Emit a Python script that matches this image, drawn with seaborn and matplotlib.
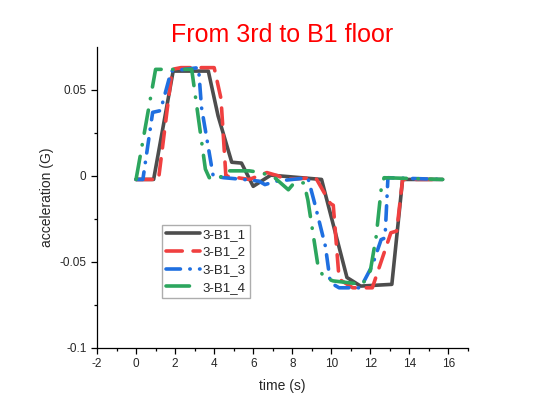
import matplotlib
matplotlib.use("Agg")
import matplotlib.pyplot as plt
import matplotlib.ticker as mticker
import pandas as pd
import seaborn as sns

# values
t_1 = [0, 0.9, 1.9, 3.7, 4.2, 4.9, 5.4, 6.0, 6.9, 9.5, 10.8, 11.5, 13.1, 13.65, 15.7]
a_1 = [-0.002, -0.002, 0.061, 0.061, 0.035, 0.008, 0.0075, -0.006, 0.0005, -0.002,
       -0.059, -0.064, -0.063, -0.002, -0.002]

t_2 = [0, 1.15, 1.85, 2.3, 4.0, 4.35, 4.6, 5.8, 6.7, 7.3, 7.6, 9.2, 9.95, 10.1, 10.4,
       11.1, 12.1, 13.05, 13.35, 13.65, 15.7]
a_2 = [-0.002, -0.002, 0.062, 0.063, 0.063, 0.045, 0.0, -0.002, 0.002, 0.0, -0.002,
       -0.001, -0.016, -0.017, -0.06, -0.065, -0.065, -0.033, -0.032, -0.002, -0.002]

t_3 = [0, 0.35, 0.85, 1.25, 1.8, 3.2, 3.35, 3.95, 4.5, 5.5, 6.3, 6.6, 7.2, 8.8, 9.15,
       9.7, 9.95, 10.4, 11.5, 12.1, 12.55, 12.75, 12.9, 15.7]
a_3 = [-0.002, -0.002, 0.037, 0.038, 0.061, 0.063, 0.04, 0.0, -0.001, -0.002, -0.003,
       -0.005, -0.003, -0.001, -0.016, -0.041, -0.062, -0.065, -0.065, -0.052, -0.037,
       -0.036, -0.001, -0.002]

t_4 = [0, 1.0, 1.3, 2.85, 3.55, 3.75, 4.3, 4.6, 5.8, 6.4, 7.1, 7.8, 8.1, 8.6, 8.8, 9.3,
       9.6, 10.1, 11.6, 12.0, 12.3, 12.55, 12.7, 15.7]
a_4 = [-0.002, 0.062, 0.062, 0.062, 0.004, -0.001, -0.001, 0.003, 0.003, 0.002, -0.001,
       -0.008, -0.004, -0.004, -0.014, -0.051, -0.059, -0.061, -0.063, -0.055, -0.035,
       -0.008, -0.001, -0.002]

labels = ["3-B1_1", "3-B1_2", "3-B1_3", "3-B1_4"]
colors = ["#4d4d4d", "#f04040", "#1f6fe0", "#2ca65e"]
dashes = ["", (4.5, 3.0), (4.0, 2.6, 0.1, 2.6), (6.5, 3.2, 0.1, 3.2)]

frames = []
for lab, t, a in zip(labels, [t_1, t_2, t_3, t_4], [a_1, a_2, a_3, a_4]):
    frames.append(pd.DataFrame({"run": lab, "time": t, "acc": a}))
df = pd.concat(frames).reset_index(drop=True)

sns.set_style("white")
plt.rcParams["font.family"] = ["Liberation Sans", "DejaVu Sans"]
plt.rcParams["axes.unicode_minus"] = False

fig = plt.figure(figsize=(5.45, 4.17), dpi=100)
ax = fig.add_axes([97 / 545, 69 / 417, 371 / 545, 301 / 417])

sns.lineplot(data=df, x="time", y="acc", hue="run", style="run",
             palette=colors, dashes=dashes, estimator=None, sort=False,
             linewidth=2.6, ax=ax, legend=False)
for ln in ax.lines:
    ln.set_dash_capstyle("round")
    ln.set_solid_capstyle("round")

ax.set_xlim(-2, 17)
ax.set_ylim(-0.1, 0.075)
ax.xaxis.set_major_locator(mticker.MultipleLocator(2))
ax.xaxis.set_minor_locator(mticker.MultipleLocator(1))
ax.yaxis.set_major_locator(mticker.FixedLocator([-0.1, -0.05, 0, 0.05]))
ax.yaxis.set_minor_locator(mticker.FixedLocator([-0.075, -0.025, 0.025]))
ax.xaxis.set_major_formatter(mticker.FuncFormatter(lambda v, p: "%g" % round(v, 3)))
ax.yaxis.set_major_formatter(mticker.FuncFormatter(lambda v, p: "%g" % round(v, 3)))
ax.tick_params(which="major", direction="out", length=4, width=0.9, labelsize=8.5,
               left=True, bottom=True, color="black")
ax.tick_params(which="minor", direction="out", length=2.5, width=0.9,
               left=True, bottom=True, color="black")
for side in ["top", "right"]:
    ax.spines[side].set_visible(False)
for side in ["left", "bottom"]:
    ax.spines[side].set_color("black")
    ax.spines[side].set_linewidth(0.9)

ax.set_xlabel("time (s)", fontsize=10, labelpad=6)
ax.set_ylabel("acceleration (G)", fontsize=10)
ax.set_title("From 3rd to B1 floor", color="red", fontsize=18, pad=3)

ax.legend(ax.lines, labels, loc="upper left", bbox_to_anchor=(0.175, 0.41),
          fontsize=9.5, frameon=True, fancybox=False, edgecolor="#999999",
          handlelength=2.6, handletextpad=0.2, borderpad=0.3, labelspacing=0.42,
          borderaxespad=0)

fig.savefig("out.png", dpi=100)
